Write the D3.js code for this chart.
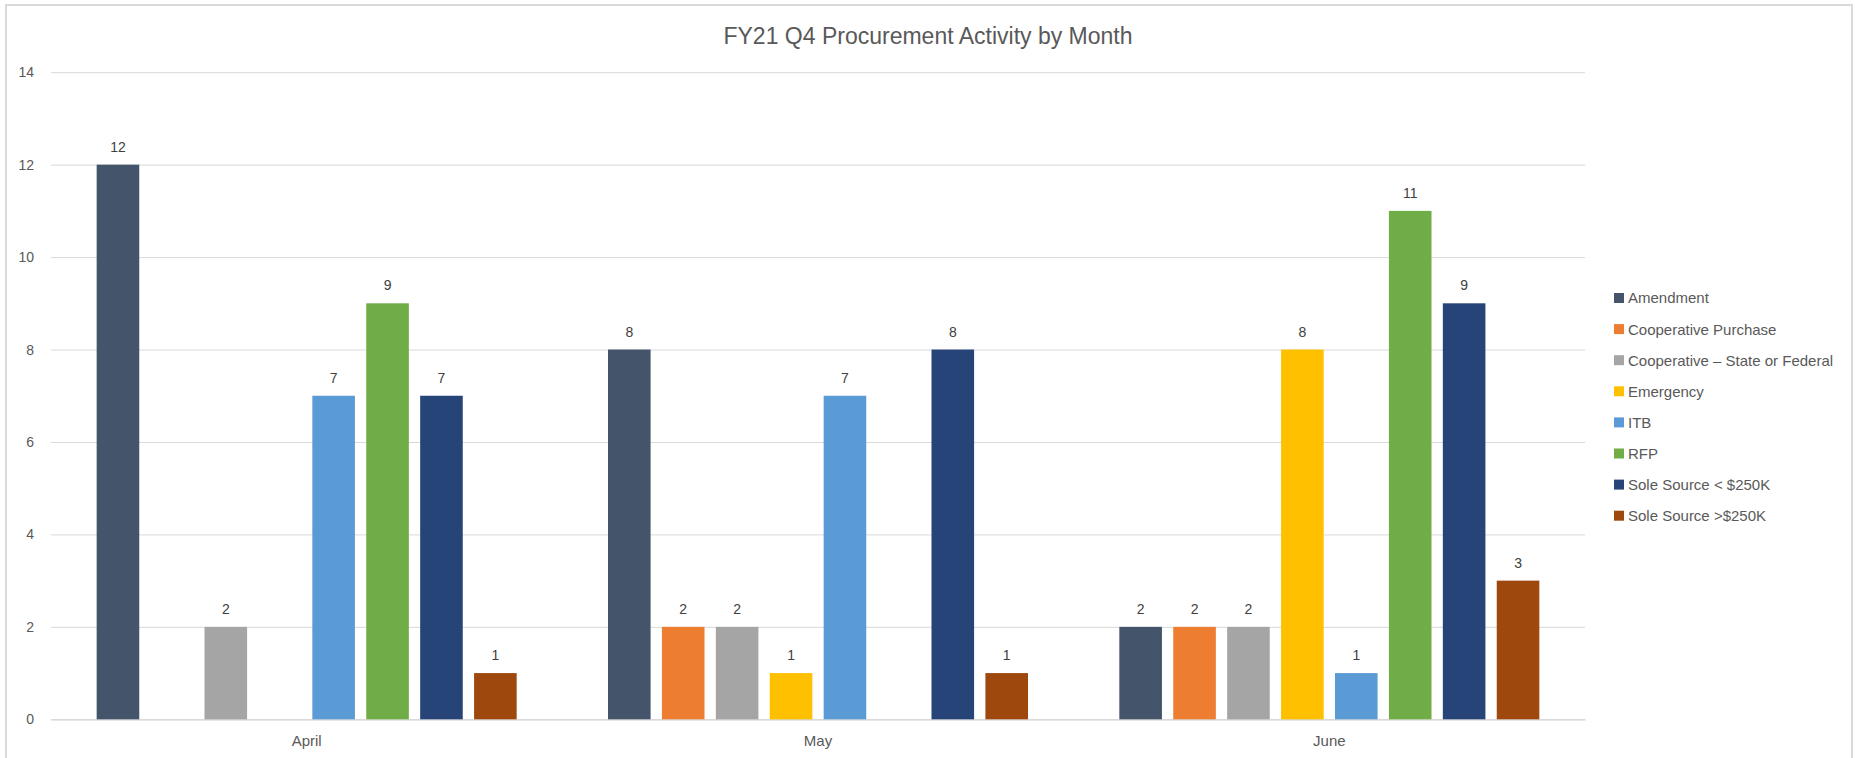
<!DOCTYPE html>
<html>
<head>
<meta charset="utf-8">
<script src="https://cdn.jsdelivr.net/npm/d3@7"></script>
<style>
  body { margin: 0; background: #fff; }
  svg { display: block; font-family: "Liberation Sans", Arial, sans-serif; }
</style>
</head>
<body>
<svg></svg>
<script>
// months on the x axis
let months = ['April', 'May', 'June'];

// one array per procurement type, values for April, May, June (null = no bar)
let seriesNames = ['Amendment', 'Cooperative Purchase', 'Cooperative \u2013 State or Federal',
                   'Emergency', 'ITB', 'RFP', 'Sole Source < $250K', 'Sole Source >$250K'];
let amendment        = [12, 8, 2];
let coopPurchase     = [null, 2, 2];
let coopStateFederal = [2, 2, 2];
let emergency        = [null, 1, 8];
let itb              = [7, 7, 1];
let rfp              = [9, null, 11];
let soleUnder250     = [7, 8, 9];
let soleOver250      = [1, 1, 3];

let yTicks = [0, 2, 4, 6, 8, 10, 12, 14];

let seriesColors = ['#44546A', '#ED7D31', '#A5A5A5', '#FFC000',
                    '#5B9BD5', '#70AD47', '#264478', '#9E480E'];

let seriesValues = [amendment, coopPurchase, coopStateFederal, emergency,
                    itb, rfp, soleUnder250, soleOver250];

let svgWidth = 1855,
    svgHeight = 758;

// plot area
let plotLeft = 51, plotRight = 1585, plotTop = 72.2, plotBottom = 719.3;

let svg = d3.select('svg')
            .attr('width', svgWidth)
            .attr('height', svgHeight);

// chart area border
svg.append('rect')
   .attr('x', 6)
   .attr('y', 5)
   .attr('width', 1846)
   .attr('height', 780)
   .attr('fill', '#fff')
   .attr('stroke', '#d9d9d9')
   .attr('stroke-width', 2);

let x0 = d3.scaleBand()
           .domain(months)
           .range([plotLeft, plotRight])
           .padding(0);

// bars inside each month group, leave ~40px each side of the group
let groupPad = 40;
let x1 = d3.scaleBand()
           .domain(d3.range(seriesNames.length))
           .range([groupPad, x0.bandwidth() - groupPad])
           .paddingInner(0.21)
           .paddingOuter(0.105);

let y = d3.scaleLinear()
          .domain([0, 14])
          .range([plotBottom, plotTop]);

// gridlines and y tick labels
let yAxis = svg.append('g')
               .attr('transform', `translate(${plotLeft},0)`)
               .call(d3.axisLeft(y)
                       .tickValues(yTicks)
                       .tickSize(-(plotRight - plotLeft))
                       .tickPadding(17));
yAxis.select('.domain').remove();
yAxis.selectAll('line')
     .attr('stroke', '#d9d9d9')
     .attr('stroke-width', 1);
yAxis.selectAll('text')
     .attr('fill', '#595959')
     .style('font-size', '14px')
     .style('font-family', '"Liberation Sans", Arial, sans-serif');

// category axis
let xAxis = svg.append('g')
               .attr('transform', `translate(0,${plotBottom})`)
               .call(d3.axisBottom(x0).tickSize(0).tickPadding(16));
xAxis.select('.domain')
     .attr('stroke', '#d9d9d9')
     .attr('stroke-width', 1.5);
xAxis.selectAll('text')
     .attr('fill', '#595959')
     .style('font-size', '15px')
     .style('font-family', '"Liberation Sans", Arial, sans-serif');

// bars
let bars = [];
months.forEach((m, mi) => {
  seriesValues.forEach((vals, si) => {
    if (vals[mi] != null) bars.push({ month: m, s: si, v: vals[mi] });
  });
});

let barGroup = svg.append('g');
barGroup.selectAll('rect')
        .data(bars)
        .enter()
        .append('rect')
        .attr('x', d => x0(d.month) + x1(d.s))
        .attr('y', d => y(d.v))
        .attr('width', x1.bandwidth())
        .attr('height', d => y(0) - y(d.v))
        .attr('fill', d => seriesColors[d.s]);

// value labels
barGroup.selectAll('text')
        .data(bars)
        .enter()
        .append('text')
        .attr('x', d => x0(d.month) + x1(d.s) + x1.bandwidth() / 2)
        .attr('y', d => y(d.v) - 13)
        .attr('text-anchor', 'middle')
        .attr('fill', '#404040')
        .style('font-size', '14px')
        .text(d => d.v);

// title
svg.append('text')
   .attr('x', 928)
   .attr('y', 44)
   .attr('text-anchor', 'middle')
   .attr('fill', '#595959')
   .style('font-size', '23px')
   .text('FY21 Q4 Procurement Activity by Month');

// legend
let legend = svg.append('g')
                .attr('transform', 'translate(1614,298)');
let rows = legend.selectAll('g')
                 .data(seriesNames)
                 .enter()
                 .append('g')
                 .attr('transform', (d, i) => `translate(0,${i * 31.1})`);
rows.append('rect')
    .attr('x', 0)
    .attr('y', -5)
    .attr('width', 10)
    .attr('height', 10)
    .attr('fill', (d, i) => seriesColors[i]);
rows.append('text')
    .attr('x', 14)
    .attr('y', 0)
    .attr('dy', '0.36em')
    .attr('fill', '#595959')
    .style('font-size', '15px')
    .text(d => d);
</script>
</body>
</html>
